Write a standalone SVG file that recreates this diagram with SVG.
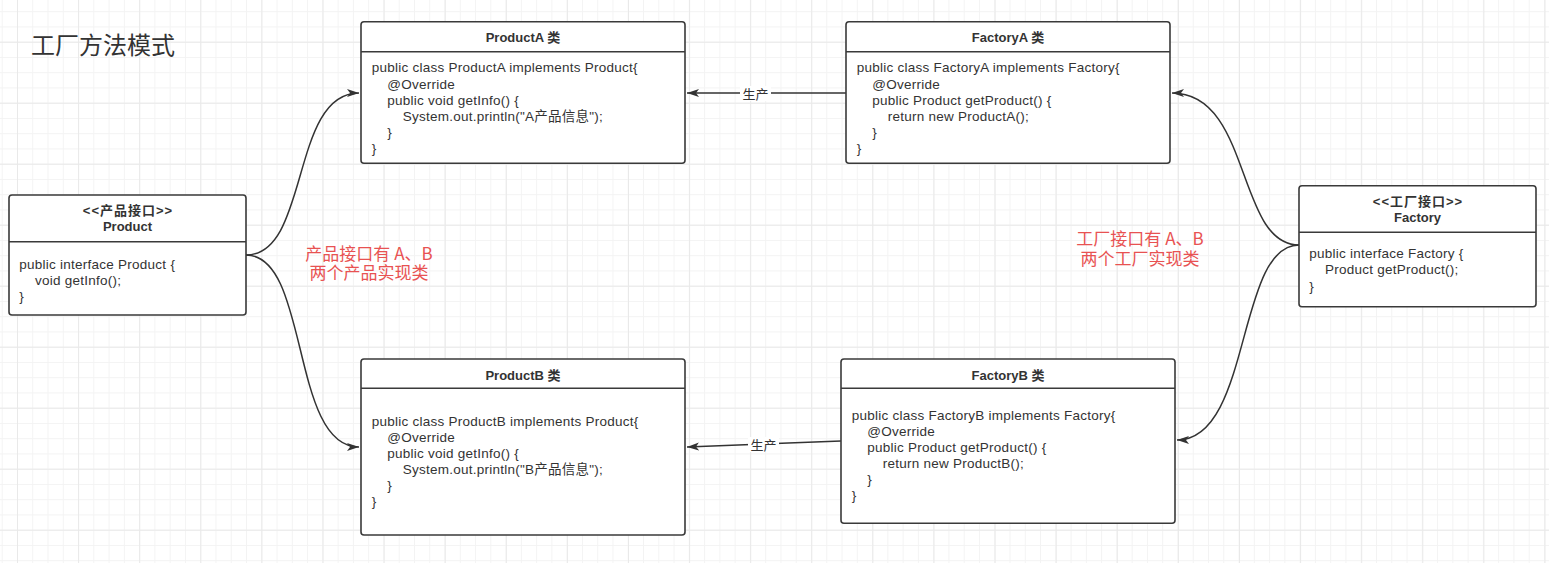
<svg xmlns="http://www.w3.org/2000/svg" width="1549" height="563" viewBox="0 0 1549 563">
<defs>
<pattern id="minor" patternUnits="userSpaceOnUse" x="1.7" y="11.2" width="15.27" height="15.25">
<path d="M0 0.5 H15.27 M0.5 0 V15.25" stroke="#f3f3f3" stroke-width="1" fill="none"/>
</pattern>
<pattern id="major" patternUnits="userSpaceOnUse" x="17" y="41.7" width="61.1" height="61">
<path d="M0 0.5 H61.1 M0.5 0 V61" stroke="#e9e9e9" stroke-width="1" fill="none"/>
</pattern>
<marker id="arr" markerUnits="userSpaceOnUse" markerWidth="14" markerHeight="10" refX="12" refY="4" orient="auto">
<path d="M0,0 L12,4 L0,8 L3,4 z" fill="#333"/>
</marker>
<style>
.box{fill:#fff;stroke:#3a3a3a;stroke-width:1.6}
.div{stroke:#3a3a3a;stroke-width:1.6}
.hd{font-family:"Liberation Sans","Noto Sans CJK SC",sans-serif;font-size:13px;font-weight:bold;fill:#333;text-anchor:middle;dominant-baseline:central}
.st{letter-spacing:1px}
.cd{font-family:"Liberation Sans","Noto Sans CJK SC",sans-serif;font-size:13.5px;letter-spacing:0.25px;fill:#333;dominant-baseline:central}
.red{font-family:"Noto Sans CJK SC",sans-serif;font-size:17px;fill:#e85252;text-anchor:middle;dominant-baseline:central}
.lbl{font-family:"Noto Sans CJK SC",sans-serif;font-size:13px;fill:#333;text-anchor:middle;dominant-baseline:central}
.conn{fill:none;stroke:#333;stroke-width:1.5}
</style>
</defs>
<rect width="1549" height="563" fill="#fff"/>
<rect width="1549" height="563" fill="url(#minor)"/>
<rect width="1549" height="563" fill="url(#major)"/>

<text x="31" y="43" style="font-family:'Noto Sans CJK SC',sans-serif;font-size:24px;fill:#333;dominant-baseline:central">工厂方法模式</text>

<g id="connectors">
<path class="conn" d="M246,255 C310,255 290,93 359,93" marker-end="url(#arr)"/>
<path class="conn" d="M246,255 C310,255 290,447 359,447" marker-end="url(#arr)"/>
<path class="conn" d="M846,93 L687,93" marker-end="url(#arr)"/>
<path class="conn" d="M841,441 L687,447" marker-end="url(#arr)"/>
<path class="conn" d="M1299,245 C1236,245 1252,93 1172,93" marker-end="url(#arr)"/>
<path class="conn" d="M1299,245 C1236,245 1252,440 1177,440" marker-end="url(#arr)"/>
<rect x="740" y="86" width="31" height="15" fill="#fff"/>
<text class="lbl" x="755.5" y="93.5">生产</text>
<rect x="748" y="437" width="31" height="15" fill="#fff"/>
<text class="lbl" x="763.5" y="444.5">生产</text>
</g>

<g id="product">
<rect class="box" x="9" y="195" width="237" height="120" rx="3"/>
<line class="div" x1="9" y1="241.7" x2="246" y2="241.7"/>
<text class="hd st" x="128" y="210">&lt;&lt;产品接口&gt;&gt;</text>
<text class="hd" x="127.5" y="226">Product</text>
<text class="cd" x="19.3" y="264">public interface Product {</text>
<text class="cd" x="35" y="280">void getInfo();</text>
<text class="cd" x="19.3" y="296">}</text>
</g>

<g id="productA">
<rect class="box" x="361" y="21.7" width="324" height="141.6" rx="3"/>
<line class="div" x1="361" y1="51.7" x2="685" y2="51.7"/>
<text class="hd" x="523" y="37.7">ProductA 类</text>
<text class="cd" x="371.7" y="67.7">public class ProductA implements Product{</text>
<text class="cd" x="387.3" y="84">@Override</text>
<text class="cd" x="387.3" y="100.3">public void getInfo() {</text>
<text class="cd" x="402.7" y="116.3">System.out.println("A产品信息");</text>
<text class="cd" x="387.3" y="132.3">}</text>
<text class="cd" x="371.7" y="148.3">}</text>
</g>

<g id="factoryA">
<rect class="box" x="846" y="21.7" width="324" height="141.6" rx="3"/>
<line class="div" x1="846" y1="51.7" x2="1170" y2="51.7"/>
<text class="hd" x="1008" y="37.7">FactoryA 类</text>
<text class="cd" x="856.7" y="67.7">public class FactoryA implements Factory{</text>
<text class="cd" x="872.3" y="84">@Override</text>
<text class="cd" x="872.3" y="100.3">public Product getProduct() {</text>
<text class="cd" x="887.7" y="116.3">return new ProductA();</text>
<text class="cd" x="872.3" y="132.3">}</text>
<text class="cd" x="856.7" y="148.3">}</text>
</g>

<g id="factory">
<rect class="box" x="1299" y="185.7" width="237" height="121" rx="3"/>
<line class="div" x1="1299" y1="232.3" x2="1536" y2="232.3"/>
<text class="hd st" x="1418" y="201.7">&lt;&lt;工厂接口&gt;&gt;</text>
<text class="hd" x="1417.5" y="217.3">Factory</text>
<text class="cd" x="1309.3" y="253.3">public interface Factory {</text>
<text class="cd" x="1325" y="269.5">Product getProduct();</text>
<text class="cd" x="1309.3" y="286">}</text>
</g>

<g id="productB">
<rect class="box" x="361" y="359" width="324" height="176" rx="3"/>
<line class="div" x1="361" y1="388.3" x2="685" y2="388.3"/>
<text class="hd" x="523" y="375">ProductB 类</text>
<text class="cd" x="371.7" y="421.7">public class ProductB implements Product{</text>
<text class="cd" x="387.3" y="437.7">@Override</text>
<text class="cd" x="387.3" y="453.7">public void getInfo() {</text>
<text class="cd" x="402.7" y="469.7">System.out.println("B产品信息");</text>
<text class="cd" x="387.3" y="485.7">}</text>
<text class="cd" x="371.7" y="501.7">}</text>
</g>

<g id="factoryB">
<rect class="box" x="841" y="359" width="334" height="164.3" rx="3"/>
<line class="div" x1="841" y1="388.3" x2="1175" y2="388.3"/>
<text class="hd" x="1008" y="375">FactoryB 类</text>
<text class="cd" x="851.7" y="415.7">public class FactoryB implements Factory{</text>
<text class="cd" x="867.3" y="431.7">@Override</text>
<text class="cd" x="867.3" y="447.7">public Product getProduct() {</text>
<text class="cd" x="882.7" y="463.7">return new ProductB();</text>
<text class="cd" x="867.3" y="479.7">}</text>
<text class="cd" x="851.7" y="495.7">}</text>
</g>

<g id="note-product">
<text class="red"><tspan x="369" y="251.7">产品接口有 A、B</tspan><tspan x="369" y="271">两个产品实现类</tspan></text>
</g>
<g id="note-factory">
<text class="red"><tspan x="1140" y="236.7">工厂接口有 A、B</tspan><tspan x="1140" y="256.7">两个工厂实现类</tspan></text>
</g>
</svg>
